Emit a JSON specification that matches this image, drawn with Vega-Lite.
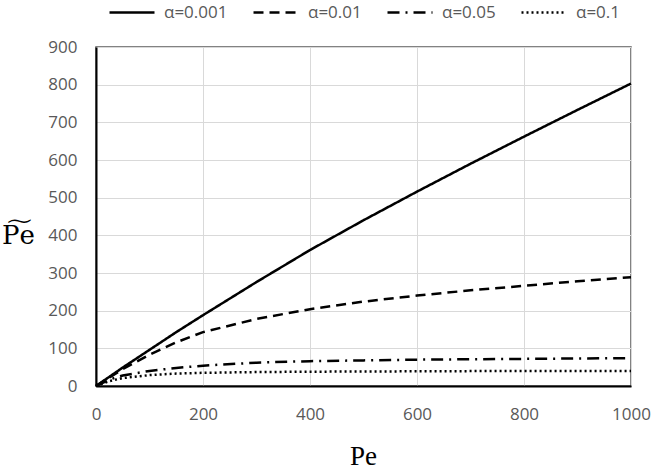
{
  "$schema": "https://vega.github.io/schema/vega-lite/v6.json",
  "width": 535,
  "height": 339,
  "autosize": {"type": "none"},
  "padding": {"left": 96, "top": 47, "right": 22, "bottom": 86},
  "background": "white",
  "config": {
    "view": {"stroke": "#595959", "strokeWidth": 1.5},
    "font": "Open Sans"
  },
  "data": {
    "values": [
      {"Pe": 0, "v": 0, "alpha": "α=0.001"},
      {"Pe": 50, "v": 49, "alpha": "α=0.001"},
      {"Pe": 100, "v": 96, "alpha": "α=0.001"},
      {"Pe": 150, "v": 143, "alpha": "α=0.001"},
      {"Pe": 200, "v": 188, "alpha": "α=0.001"},
      {"Pe": 300, "v": 276, "alpha": "α=0.001"},
      {"Pe": 400, "v": 361, "alpha": "α=0.001"},
      {"Pe": 500, "v": 440, "alpha": "α=0.001"},
      {"Pe": 600, "v": 516, "alpha": "α=0.001"},
      {"Pe": 700, "v": 590, "alpha": "α=0.001"},
      {"Pe": 800, "v": 662, "alpha": "α=0.001"},
      {"Pe": 900, "v": 733, "alpha": "α=0.001"},
      {"Pe": 1000, "v": 803, "alpha": "α=0.001"},
      {"Pe": 0, "v": 0, "alpha": "α=0.01"},
      {"Pe": 50, "v": 45, "alpha": "α=0.01"},
      {"Pe": 100, "v": 83, "alpha": "α=0.01"},
      {"Pe": 150, "v": 116, "alpha": "α=0.01"},
      {"Pe": 200, "v": 143, "alpha": "α=0.01"},
      {"Pe": 300, "v": 178, "alpha": "α=0.01"},
      {"Pe": 400, "v": 204, "alpha": "α=0.01"},
      {"Pe": 500, "v": 224, "alpha": "α=0.01"},
      {"Pe": 600, "v": 240, "alpha": "α=0.01"},
      {"Pe": 700, "v": 254, "alpha": "α=0.01"},
      {"Pe": 800, "v": 266, "alpha": "α=0.01"},
      {"Pe": 900, "v": 278, "alpha": "α=0.01"},
      {"Pe": 1000, "v": 289, "alpha": "α=0.01"},
      {"Pe": 0, "v": 0, "alpha": "α=0.05"},
      {"Pe": 25, "v": 17, "alpha": "α=0.05"},
      {"Pe": 50, "v": 28, "alpha": "α=0.05"},
      {"Pe": 100, "v": 40, "alpha": "α=0.05"},
      {"Pe": 150, "v": 48, "alpha": "α=0.05"},
      {"Pe": 200, "v": 54, "alpha": "α=0.05"},
      {"Pe": 300, "v": 62, "alpha": "α=0.05"},
      {"Pe": 400, "v": 66, "alpha": "α=0.05"},
      {"Pe": 500, "v": 68, "alpha": "α=0.05"},
      {"Pe": 600, "v": 70, "alpha": "α=0.05"},
      {"Pe": 700, "v": 71, "alpha": "α=0.05"},
      {"Pe": 800, "v": 72, "alpha": "α=0.05"},
      {"Pe": 900, "v": 73, "alpha": "α=0.05"},
      {"Pe": 1000, "v": 74, "alpha": "α=0.05"},
      {"Pe": 0, "v": 0, "alpha": "α=0.1"},
      {"Pe": 25, "v": 13, "alpha": "α=0.1"},
      {"Pe": 50, "v": 21, "alpha": "α=0.1"},
      {"Pe": 100, "v": 29, "alpha": "α=0.1"},
      {"Pe": 150, "v": 33, "alpha": "α=0.1"},
      {"Pe": 200, "v": 35, "alpha": "α=0.1"},
      {"Pe": 300, "v": 37, "alpha": "α=0.1"},
      {"Pe": 400, "v": 38, "alpha": "α=0.1"},
      {"Pe": 600, "v": 39, "alpha": "α=0.1"},
      {"Pe": 800, "v": 40, "alpha": "α=0.1"},
      {"Pe": 1000, "v": 40, "alpha": "α=0.1"}
    ]
  },
  "mark": {"type": "line", "color": "black", "strokeWidth": 2.5},
  "encoding": {
    "x": {
      "field": "Pe",
      "type": "quantitative",
      "scale": {"domain": [0, 1000], "nice": false},
      "axis": {
        "values": [0, 200, 400, 600, 800, 1000],
        "format": "d",
        "labelFlush": false,
        "title": "Pe",
        "titleFont": "Liberation Serif",
        "titleFontSize": 27,
        "titleFontWeight": "normal",
        "titleColor": "black",
        "titleBaseline": "alphabetic",
        "titleY": 78,
        "titleX": 267,
        "titleAlign": "center",
        "labelFontSize": 17,
        "labelColor": "#595959",
        "labelPadding": 20,
        "ticks": false,
        "tickSize": 0,
        "domainColor": "black",
        "domainWidth": 2,
        "gridColor": "#d9d9d9",
        "gridWidth": 1
      }
    },
    "y": {
      "field": "v",
      "type": "quantitative",
      "scale": {"domain": [0, 900], "nice": false},
      "axis": {
        "values": [0, 100, 200, 300, 400, 500, 600, 700, 800, 900],
        "format": "d",
        "labelFlush": false,
        "title": "P͠e",
        "titleFont": "DejaVu Serif",
        "titleFontSize": 26,
        "titleFontWeight": "normal",
        "titleColor": "black",
        "titleAngle": 0,
        "titleBaseline": "alphabetic",
        "titleAlign": "center",
        "titleX": -78,
        "titleY": 196,
        "labelFontSize": 17,
        "labelColor": "#595959",
        "labelPadding": 19,
        "ticks": false,
        "tickSize": 0,
        "domainColor": "black",
        "domainWidth": 2,
        "gridColor": "#d9d9d9",
        "gridWidth": 1
      }
    },
    "strokeDash": {
      "field": "alpha",
      "type": "nominal",
      "scale": {
        "domain": ["α=0.001", "α=0.01", "α=0.05", "α=0.1"],
        "range": [[1, 0], [10, 6], [12, 6, 2, 6], [2, 3]]
      },
      "legend": {
        "title": null,
        "orient": "none",
        "direction": "horizontal",
        "legendX": 12,
        "legendY": -58.5,
        "symbolType": "stroke",
        "symbolSize": 2025,
        "symbolStrokeColor": "black",
        "symbolStrokeWidth": 2.5,
        "labelFontSize": 17,
        "labelColor": "#595959",
        "labelOffset": 8,
        "columnPadding": 20
      }
    }
  }
}
